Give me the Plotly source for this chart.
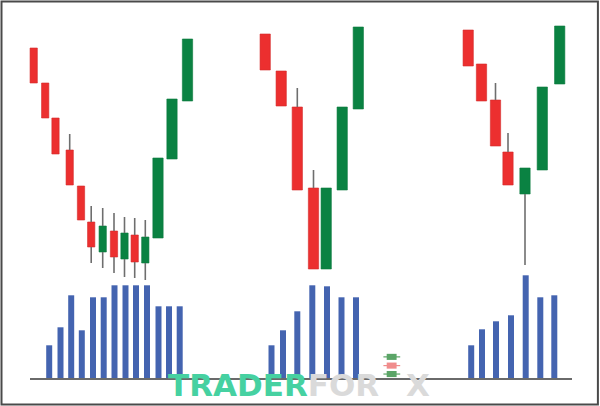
import plotly.graph_objects as go

# ---------------- data ----------------
# pattern 1 (rounded bottom)
t1 = [33.7, 45.2, 55.5, 69.7, 81, 91.2, 102.7, 114, 124.5, 134.7, 145.3, 158, 172, 187.5]
o1 = [352, 317, 282, 250, 214, 178, 148, 169, 141, 165, 137, 162, 241, 299]
h1 = [352, 317, 282, 266, 214, 194, 192, 187, 183, 182, 180, 242, 301, 361]
l1 = [317, 282, 246, 215, 180, 137, 132, 127, 123, 122, 120, 162, 241, 299]
c1 = [317, 282, 246, 215, 180, 153, 174, 143, 167, 138, 163, 242, 301, 361]
vt1 = [49.2, 60.5, 71.2, 81.8, 93, 103.7, 114.5, 125.5, 136, 147, 158.5, 169, 179.7]
v1 = [330, 510, 830, 480, 810, 810, 930, 930, 930, 930, 720, 720, 720]

# pattern 2 (V bottom)
t2 = [265.2, 281.2, 297.3, 313.5, 326.2, 342.2, 358.3]
o2 = [366, 329, 293, 212, 131, 210, 291]
h2 = [366, 329, 312, 230, 212, 293, 373]
l2 = [330, 294, 210, 131, 131, 210, 291]
c2 = [330, 294, 210, 131, 212, 293, 373]
vt2 = [271.5, 283, 297.3, 312.3, 327, 341.5, 356]
v2 = [330, 480, 670, 930, 920, 810, 810]

# pattern 3 (long lower shadow)
t3 = [468.2, 481.5, 495.5, 508, 525, 542.3, 559.7]
o3 = [370, 336, 300, 248, 206, 230, 316]
h3 = [370, 336, 317, 267, 232, 313, 374]
l3 = [334, 299, 254, 215, 135, 230, 316]
c3 = [334, 299, 254, 215, 232, 313, 374]
vt3 = [471.2, 482, 496, 511, 525.7, 540.3, 554.3]
v3 = [330, 490, 570, 630, 1030, 810, 830]

# ---------------- styles ----------------
RED = "#EC2F2F"
RED_EDGE = "#D42A2A"
GREEN = "#0A8242"
GREEN_EDGE = "#0A7A3E"
BLUE = "#4464B0"
WICK = "#6E6E6E"

fig = go.Figure()

patterns = [(t1, o1, h1, l1, c1), (t2, o2, h2, l2, c2), (t3, o3, h3, l3, c3)]

for pi, (t, o, h, l, c) in enumerate(patterns):
    # wicks: upper and lower shadows only (outside the body)
    wx, wy = [], []
    for ti, oi, hi, li, ci in zip(t, o, h, l, c):
        top, bot = max(oi, ci), min(oi, ci)
        if hi > top:
            wx += [ti, ti, None]
            wy += [top, hi, None]
        if li < bot:
            wx += [ti, ti, None]
            wy += [li, bot, None]
    fig.add_trace(go.Scatter(x=wx, y=wy, mode="lines",
                             line=dict(color=WICK, width=1.6),
                             hoverinfo="skip", showlegend=False))
    # bodies
    widths = []
    for i in range(len(t)):
        if pi == 0 and i < 11:
            widths.append(7.3)
        else:
            widths.append(10.3)
    colors = [GREEN if ci > oi else RED for oi, ci in zip(o, c)]
    edges = [GREEN_EDGE if ci > oi else RED_EDGE for oi, ci in zip(o, c)]
    fig.add_trace(go.Bar(x=t, y=[abs(ci - oi) for oi, ci in zip(o, c)],
                         base=[min(oi, ci) for oi, ci in zip(o, c)],
                         width=widths,
                         marker=dict(color=colors, line=dict(color=edges, width=0.6)),
                         showlegend=False))

for vt, v in [(vt1, v1), (vt2, v2), (vt3, v3)]:
    fig.add_trace(go.Bar(x=vt, y=v, width=[6] * len(v), yaxis="y2",
                         marker=dict(color=BLUE, line=dict(width=0)),
                         showlegend=False))

shapes = [
    # baseline of volume panel
    dict(type="line", xref="x", yref="y2", x0=30, x1=572, y0=-8, y1=-8,
         line=dict(color="#6A6A6A", width=2)),
    # frame
    dict(type="rect", xref="paper", yref="paper", x0=0.0025, x1=0.9965, y0=0.004, y1=0.9963,
         line=dict(color="#4A4A4A", width=2), fillcolor="rgba(0,0,0,0)"),
]

# logo icon (small candles replacing the "E")
icon = [(0.9213, "#5BA567"), (0.9005, "#F08C8C"), (0.879, "#5BA567")]
for yy, col in icon:
    shapes.append(dict(type="line", xref="paper", yref="paper", x0=0.639, x1=0.667,
                       y0=1 - yy, y1=1 - yy, line=dict(color=col, width=1.2)))
    shapes.append(dict(type="rect", xref="paper", yref="paper", x0=0.6445, x1=0.661,
                       y0=1 - yy - 0.0075, y1=1 - yy + 0.0075,
                       fillcolor=col, line=dict(width=0)))

fig.update_layout(
    width=600, height=406,
    margin=dict(l=0, r=0, t=0, b=0),
    paper_bgcolor="white", plot_bgcolor="white",
    barmode="overlay",
    xaxis=dict(range=[0, 600], visible=False, fixedrange=True),
    yaxis=dict(range=[-6, 400], visible=False, fixedrange=True),
    yaxis2=dict(range=[-277, 3783], overlaying="y", visible=False, fixedrange=True),
    shapes=shapes,
    annotations=[
        dict(xref="paper", yref="paper", x=381 / 600, y=1 - 384.5 / 406, xanchor="right", yanchor="middle",
             text="<b><span style='color:#46D1A1'>TRADER</span><span style='color:#DADADA'>FOR</span></b>",
             showarrow=False, font=dict(family="DejaVu Sans", size=31)),
        dict(xref="paper", yref="paper", x=404 / 600, y=1 - 384.5 / 406, xanchor="left", yanchor="middle",
             text="<b>X</b>", showarrow=False,
             font=dict(family="DejaVu Sans", size=31, color="#DADADA")),
    ],
)

fig.write_html("out.html", config={"displayModeBar": False, "staticPlot": True},
               post_script="document.body.style.margin='0';document.body.style.overflow='hidden';")
